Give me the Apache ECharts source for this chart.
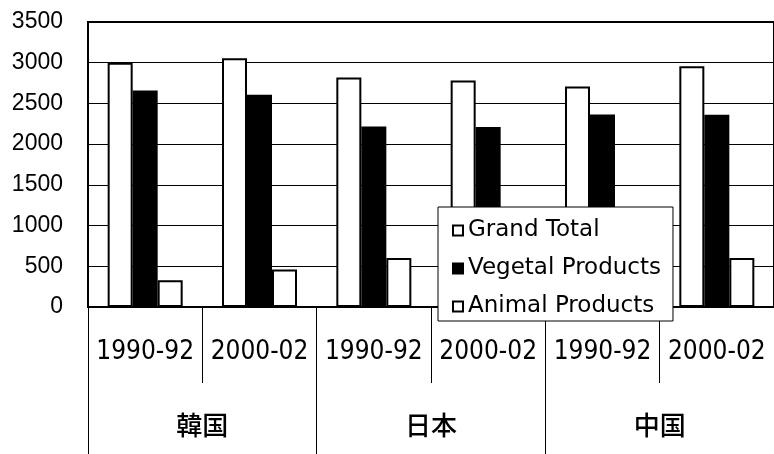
<!DOCTYPE html>
<html lang="ja">
<head>
    <meta charset="UTF-8">
    <title>Grand Total / Vegetal / Animal Products</title>
    <script src="https://cdn.jsdelivr.net/npm/echarts@6/dist/echarts.min.js"></script>
    <style>
        html, body { margin: 0; padding: 0; background: #fff; }
    </style>
</head>
<body>
<div id="main" style="width: 774px;height:454px;"></div>

<script type="text/javascript">
    // 期間と国
    var years = ['1990-92', '2000-02', '1990-92', '2000-02', '1990-92', '2000-02'];
    var countries = ['韓国', '日本', '中国'];

    // 値 (kcal)
    var grandTotal = [3000, 3056, 2819, 2782, 2708, 2958];
    var vegetal = [2659, 2606, 2218, 2209, 2365, 2361];
    var animal = [327, 459, 601, 573, 343, 601];

    var yTicks = [0, 3500, 500]; // min, max, interval

    var myChart = echarts.init(document.getElementById('main'));

    var openBar = {color: '#fff', borderColor: '#000', borderWidth: 2};

    var option = {
        animation: false,
        backgroundColor: '#fff',
        grid: {
            left: 88,
            top: 22,
            right: -7,
            bottom: 147,
            show: true,
            borderColor: '#000',
            borderWidth: 2
        },
        legend: {
            orient: 'vertical',
            left: 438,
            top: 207,
            padding: [12, 12, 3, 14],
            itemGap: 15,
            itemWidth: 10,
            itemHeight: 10,
            icon: 'rect',
            itemStyle: {borderColor: '#000', borderWidth: 2},
            backgroundColor: '#fff',
            borderColor: '#000',
            borderWidth: 1,
            textStyle: {
                color: '#000',
                fontSize: 23,
                lineHeight: 22,
                fontFamily: 'DejaVu Sans'
            },
            data: ['Grand Total', 'Vegetal Products', 'Animal Products']
        },
        xAxis: [
            {
                type: 'category',
                position: 'bottom',
                data: years,
                axisLine: {lineStyle: {color: '#000', width: 2}},
                axisTick: {show: true, interval: 0, length: 76, lineStyle: {color: '#000', width: 1}},
                axisLabel: {
                    interval: 0,
                    margin: 32,
                    color: '#000',
                    fontSize: 26,
                    fontFamily: 'DejaVu Sans Condensed, Liberation Sans Narrow, sans-serif'
                }
            },
            {
                type: 'category',
                position: 'bottom',
                data: countries,
                axisLine: {show: false},
                axisTick: {show: true, interval: 0, length: 150, lineStyle: {color: '#000', width: 1}},
                axisLabel: {
                    interval: 0,
                    margin: 105,
                    color: '#000',
                    fontSize: 26,
                    fontWeight: 500,
                    fontFamily: 'Noto Sans CJK JP'
                }
            }
        ],
        yAxis: {
            type: 'value',
            min: yTicks[0],
            max: yTicks[1],
            interval: yTicks[2],
            axisLine: {show: true, lineStyle: {color: '#000', width: 2}},
            axisTick: {show: false},
            splitLine: {lineStyle: {color: '#000', width: 1}},
            axisLabel: {
                margin: 25,
                color: '#000',
                fontSize: 23,
                fontFamily: 'Liberation Sans',
                formatter: function (v) { return String(v); }
            }
        },
        series: [
            {
                name: 'Grand Total',
                type: 'bar',
                barWidth: 25,
                barGap: '0%',
                itemStyle: openBar,
                data: grandTotal
            },
            {
                name: 'Vegetal Products',
                type: 'bar',
                barWidth: 25,
                barGap: '0%',
                itemStyle: {color: '#000', borderColor: '#000', borderWidth: 2},
                data: vegetal
            },
            {
                name: 'Animal Products',
                type: 'bar',
                barWidth: 25,
                barGap: '0%',
                itemStyle: openBar,
                data: animal
            }
        ]
    };

    myChart.setOption(option);
</script>
</body>
</html>
